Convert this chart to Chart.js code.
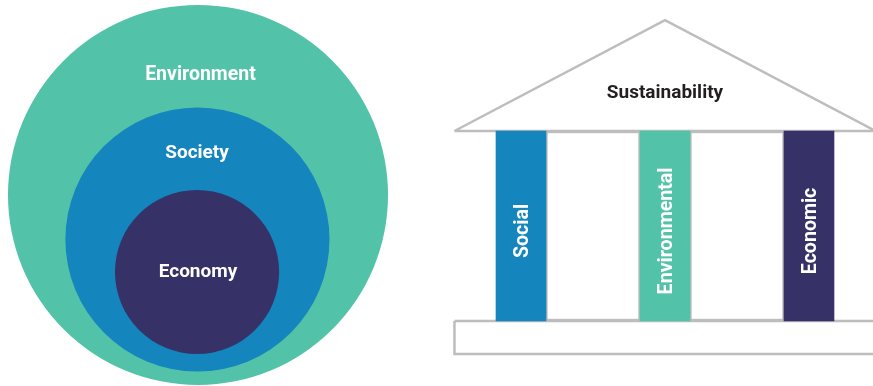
<!DOCTYPE html>
<html>
<head>
<meta charset="utf-8">
<script src="https://cdn.jsdelivr.net/npm/chart.js@4.4.1/dist/chart.umd.min.js"></script>
<style>
  html, body { margin: 0; padding: 0; background: #fff; overflow: hidden; }
  #circles { position: absolute; left: 0; top: 0; }
  #temple { position: absolute; left: 440px; top: 0; }
</style>
</head>
<body>
<canvas id="circles" width="400" height="386"></canvas>
<canvas id="temple" width="433" height="386"></canvas>
<script>
// nested circles, outer ring first (circle units, outer radius = 100)
var circleLabels = ['Environment', 'Society', 'Economy'];
var circleX = [0, -0.3, -0.5];
var circleY = [0, -23.4, -40.5];
var circleR = [100, 69.5, 43.2];

// temple: pillars stand on slots 1..3, height 10
var roofLabel = 'Sustainability';
var pillarLabels = ['Social', 'Environmental', 'Economic'];
var pillarSlot = [1, 2, 3];
var pillarHeight = [10, 10, 10];
var gapSlot = [1.5, 2.5];
var roofX = [0.538, 2, 3.462, 0.538];
var roofY = [10, 15.84, 10, 10];
var baseX = [0.538, 3.7, 3.7, 0.538, 0.538];
var baseY = [0, 0, -1.74, -1.74, 0];

var teal = '#52c3a8';
var blue = '#1485bd';
var navy = '#363268';
var grey = '#bdbdbd';

// where the words sit (axis units)
var circleLabelX = [1.3, -0.5, 0];
var circleLabelY = [60.5, 19.5, -43.2];
var circleFont = [19.5, 19, 19];
var roofLabelY = 11.72;
var pillarLabelY = 4.74;

function points(xs, ys) {
    return xs.map(function (x, i) { return { x: x, y: ys[i] }; });
}

var hiddenAxes = function (xmin, xmax, ymin, ymax) {
    return {
        x: { type: 'linear', display: false, min: xmin, max: xmax, offset: false },
        y: { type: 'linear', display: false, min: ymin, max: ymax, offset: false }
    };
};

var circleText = {
    id: 'circleText',
    afterDatasetsDraw: function (chart) {
        var ctx = chart.ctx;
        ctx.save();
        ctx.fillStyle = '#ffffff';
        ctx.textAlign = 'center';
        ctx.textBaseline = 'alphabetic';
        circleLabels.forEach(function (label, i) {
            ctx.font = 'bold ' + circleFont[i] + 'px Roboto';
            ctx.fillText(label,
                chart.scales.x.getPixelForValue(circleLabelX[i]),
                chart.scales.y.getPixelForValue(circleLabelY[i]));
        });
        ctx.restore();
    }
};

var templeText = {
    id: 'templeText',
    afterDatasetsDraw: function (chart) {
        var ctx = chart.ctx;
        var sx = chart.scales.x, sy = chart.scales.y;
        ctx.save();
        ctx.textAlign = 'center';
        ctx.textBaseline = 'alphabetic';
        ctx.fillStyle = '#231f20';
        ctx.font = 'bold 19px Roboto';
        ctx.fillText(roofLabel, sx.getPixelForValue(2), sy.getPixelForValue(roofLabelY));

        ctx.fillStyle = '#ffffff';
        ctx.font = 'bold 19.6px Roboto';
        pillarLabels.forEach(function (label, i) {
            var m = ctx.measureText(label);
            ctx.save();
            ctx.translate(sx.getPixelForValue(pillarSlot[i]) + m.actualBoundingBoxAscent / 2,
                sy.getPixelForValue(pillarLabelY));
            ctx.rotate(-Math.PI / 2);
            ctx.fillText(label, 0, 0);
            ctx.restore();
        });
        ctx.restore();
    }
};

function circleChart(canvasId) {
    var ctx = document.getElementById(canvasId).getContext('2d');
    return new Chart(ctx, {
        type: 'scatter',
        data: {
            datasets: [{
                data: points(circleX, circleY),
                pointRadius: function (c) {
                    var s = c.chart.scales.x;
                    return s.getPixelForValue(circleR[c.dataIndex]) - s.getPixelForValue(0);
                },
                pointHoverRadius: function (c) {
                    var s = c.chart.scales.x;
                    return s.getPixelForValue(circleR[c.dataIndex]) - s.getPixelForValue(0);
                },
                pointBackgroundColor: [teal, blue, navy],
                pointBorderWidth: 0,
                clip: false
            }]
        },
        options: {
            responsive: false,
            animation: false,
            events: [],
            layout: { padding: 0 },
            plugins: { legend: { display: false }, tooltip: { enabled: false } },
            scales: hiddenAxes(-104.2, 106.3, -100.5, 102.6)
        },
        plugins: [circleText]
    });
}

function templeChart(canvasId) {
    var ctx = document.getElementById(canvasId).getContext('2d');
    return new Chart(ctx, {
        type: 'bar',
        data: {
            datasets: [{
                label: 'pillars',
                data: pillarSlot.map(function (s, i) { return { x: s, y: [0, pillarHeight[i]] }; }),
                backgroundColor: [blue, teal, navy],
                borderWidth: 0,
                barThickness: 50,
                grouped: false,
                order: 0
            }, {
                label: 'gaps',
                data: gapSlot.map(function (s) { return { x: s, y: [0, 10] }; }),
                backgroundColor: '#ffffff',
                borderColor: grey,
                borderWidth: 2.5,
                borderSkipped: false,
                barThickness: 95,
                grouped: false,
                order: 1
            }, {
                type: 'line',
                label: 'roof',
                data: points(roofX, roofY),
                borderColor: grey,
                borderWidth: 2.5,
                pointRadius: 0,
                fill: false,
                tension: 0,
                clip: false,
                order: 2
            }, {
                type: 'line',
                label: 'base',
                data: points(baseX, baseY),
                borderColor: grey,
                borderWidth: 2.5,
                pointRadius: 0,
                fill: false,
                tension: 0,
                clip: false,
                order: 3
            }]
        },
        options: {
            responsive: false,
            animation: false,
            events: [],
            layout: { padding: 0 },
            plugins: { legend: { display: false }, tooltip: { enabled: false } },
            scales: hiddenAxes(0.4375, 3.4445, -3.421, 16.895)
        },
        plugins: [templeText]
    });
}

circleChart('circles');
templeChart('temple');
</script>
</body>
</html>
